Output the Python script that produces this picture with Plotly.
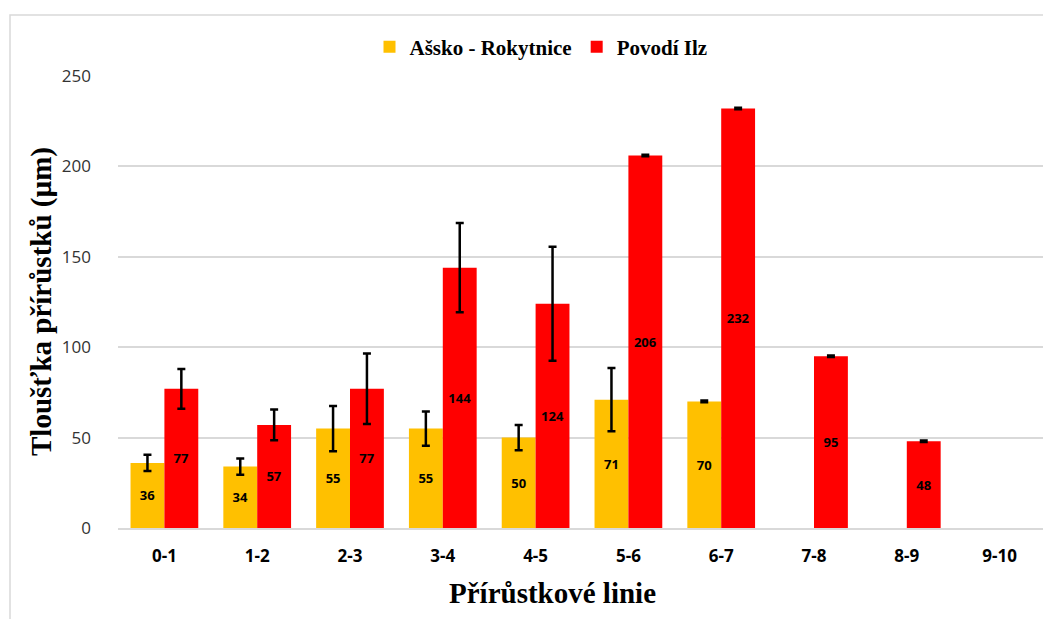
import plotly.graph_objects as go

categories = ["0-1", "1-2", "2-3", "3-4", "4-5", "5-6", "6-7", "7-8", "8-9", "9-10"]
asko = [36, 34, 55, 55, 50, 71, 70, None, None, None]
asko_err = [4.5, 4.5, 12.5, 9.5, 7, 17.5, 0.5, None, None, None]
ilz = [77, 57, 77, 144, 124, 206, 232, 95, 48, None]
ilz_err = [11, 8.5, 19.5, 24.7, 31.5, 0.4, 0.4, 0.4, 0.4, None]
series_names = ["Ašsko - Rokytnice", "Povodí Ilz"]
colors = ["#FFC000", "#FF0000"]

OFF = 8  # page body margin
W, H = 1051 - OFF, 619 - OFF
L, T = 118 - OFF, 76 - OFF
R = W - (1046 - OFF)
B = H - (528 - OFF)
pw, ph = W - L - R, H - T - B


def px(xs):
    return (xs - OFF - L) / pw


def py(ys):
    return (H - B - (ys - OFF)) / ph


fig = go.Figure()
for name, vals, errs, col in [(series_names[0], asko, asko_err, colors[0]),
                              (series_names[1], ilz, ilz_err, colors[1])]:
    fig.add_trace(go.Bar(
        x=categories, y=vals, name=name,
        marker=dict(color=col, line=dict(width=0)),
        error_y=dict(type="data", array=errs, visible=True, color="black", thickness=2.5, width=4),
        texttemplate="%{y:.0f}", textposition="inside", insidetextanchor="middle",
        textangle=0, constraintext="none",
        textfont=dict(family="Open Sans", size=13, color="black", weight="bold"),
    ))

fig.update_layout(
    width=W, height=H,
    margin=dict(l=L, r=R, t=T, b=B),
    paper_bgcolor="white", plot_bgcolor="white",
    barmode="group", bargap=0.27, bargroupgap=0,
    showlegend=True,
    legend=dict(orientation="h", x=px(541), xanchor="center", y=py(47), yanchor="middle",
                font=dict(family="Liberation Serif", size=21, color="black", weight="bold"),
                itemwidth=30, traceorder="normal", bgcolor="rgba(0,0,0,0)"),
    xaxis=dict(showgrid=False, showline=True, linecolor="#d9d9d9", linewidth=1.5, ticks="",
               ticklabelstandoff=12,
               tickfont=dict(family="Open Sans", size=17, color="black", weight="bold")),
    yaxis=dict(range=[0, 250], dtick=50, showgrid=True, gridcolor="#d9d9d9", gridwidth=1.5,
               zeroline=False, showline=False, ticks="", ticklen=0, ticklabelstandoff=26,
               tickfont=dict(family="Open Sans", size=17, color="#333333")),
    annotations=[
        dict(text="Tloušťka přírůstků (µm)", xref="paper", yref="paper", x=px(41), y=py(302),
             textangle=-90, showarrow=False, xanchor="center", yanchor="middle",
             font=dict(family="Liberation Serif", size=29, color="black", weight="bold")),
        dict(text="Přírůstkové linie", xref="paper", yref="paper", x=px(552), y=py(593),
             showarrow=False, xanchor="center", yanchor="middle",
             font=dict(family="Liberation Serif", size=29, color="black", weight="bold")),
    ],
    shapes=[dict(type="rect", xref="paper", yref="paper",
                 x0=px(10), x1=px(1060), y0=py(630), y1=py(15),
                 line=dict(color="#d9d9d9", width=1.5), fillcolor="rgba(0,0,0,0)", layer="below")],
)

fig.write_html("out.html")
